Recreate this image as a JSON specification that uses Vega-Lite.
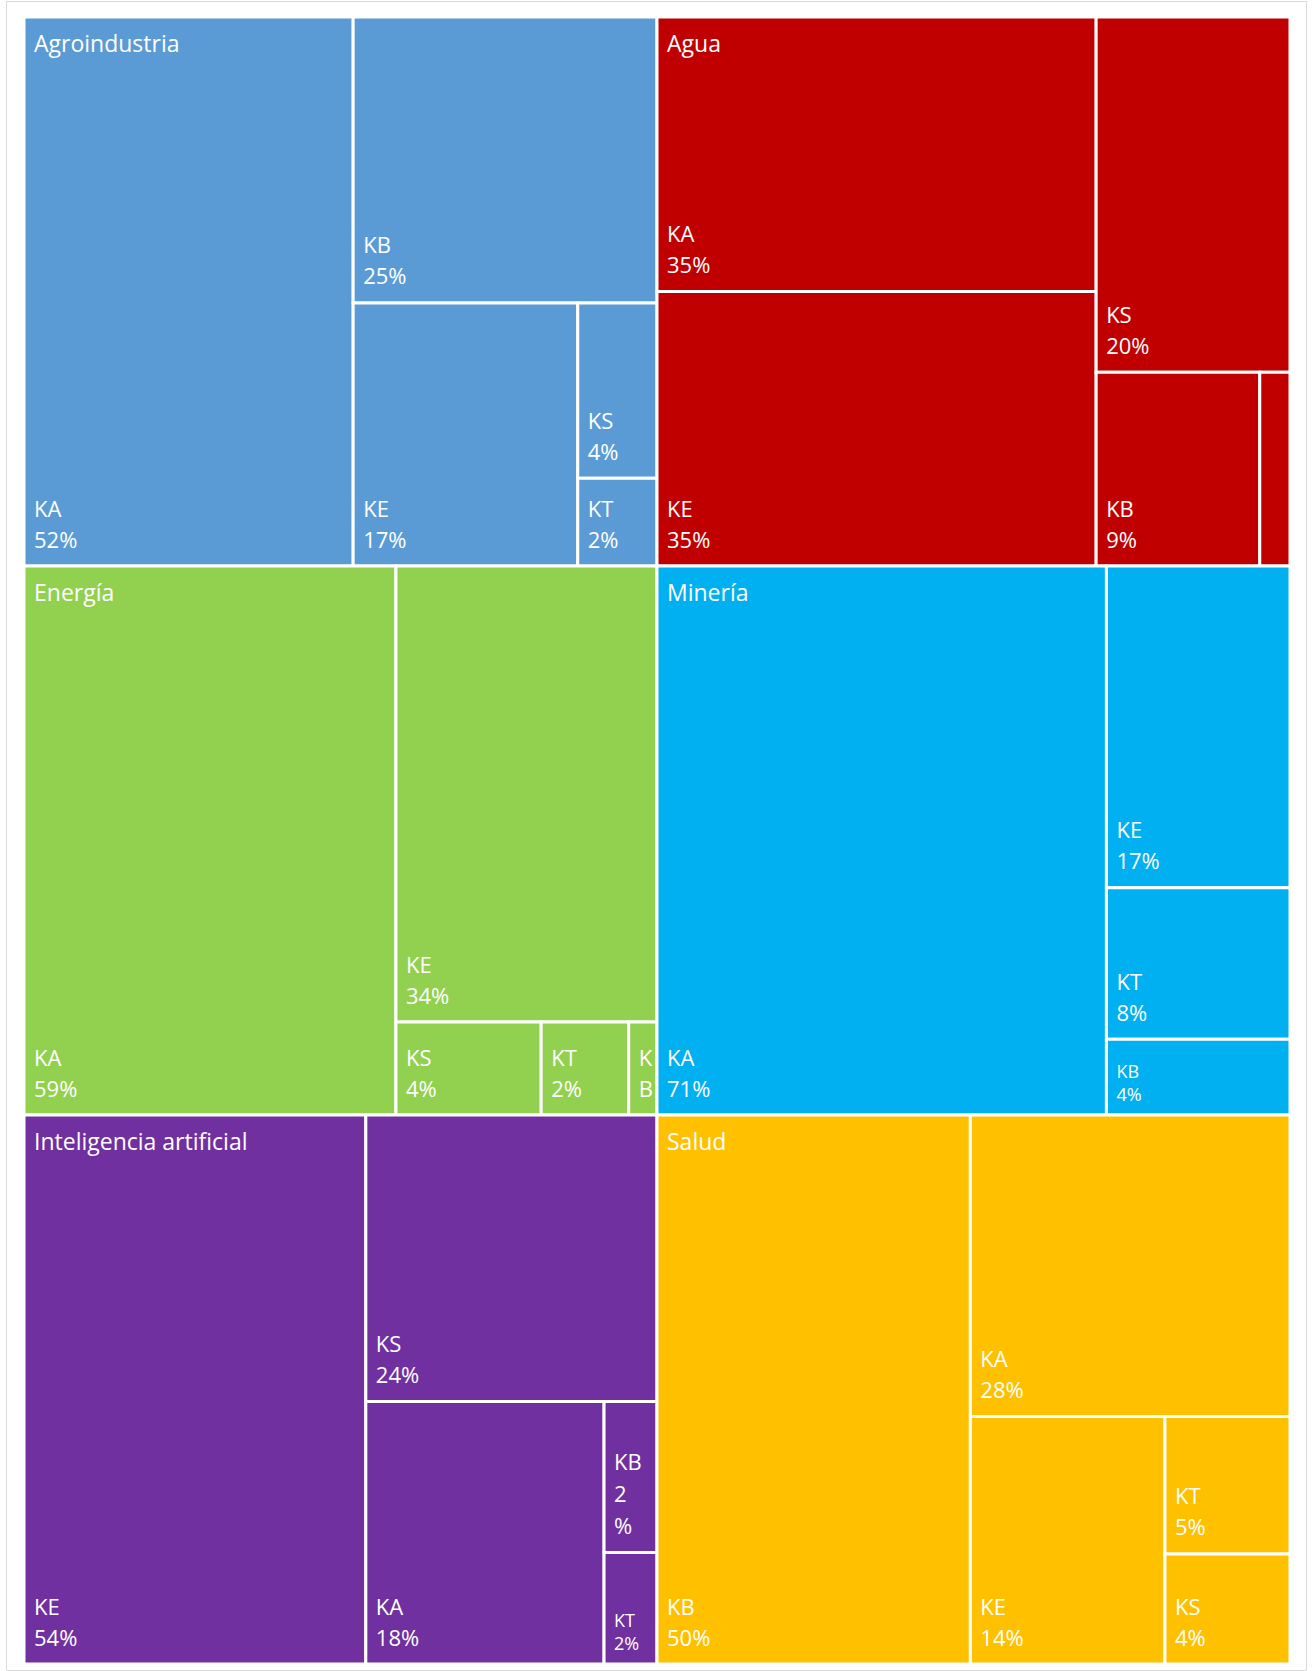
{
  "$schema": "https://vega.github.io/schema/vega-lite/v6.json",
  "width": 1300,
  "height": 1669,
  "padding": {"left": 6, "top": 1, "right": 6, "bottom": 1},
  "autosize": {"type": "none"},
  "background": "white",
  "config": {"view": {"stroke": "#d9d9d9", "strokeWidth": 1}},
  "data": {
    "values": [
      {"g": "Agroindustria", "gs": 1, "gd": "h", "c": "KA", "v": 52, "s": 1, "d": "v"},
      {"g": "Agroindustria", "gs": 1, "gd": "h", "c": "KB", "v": 25, "s": 2, "d": "h"},
      {"g": "Agroindustria", "gs": 1, "gd": "h", "c": "KE", "v": 17, "s": 3, "d": "v"},
      {"g": "Agroindustria", "gs": 1, "gd": "h", "c": "KS", "v": 4, "s": 4, "d": "h"},
      {"g": "Agroindustria", "gs": 1, "gd": "h", "c": "KT", "v": 2, "s": 5, "d": "h"},
      {"g": "Agua", "gs": 1, "gd": "h", "c": "KA", "v": 35, "s": 1, "d": "v"},
      {"g": "Agua", "gs": 1, "gd": "h", "c": "KE", "v": 35, "s": 1, "d": "v"},
      {"g": "Agua", "gs": 1, "gd": "h", "c": "KS", "v": 20, "s": 2, "d": "h"},
      {"g": "Agua", "gs": 1, "gd": "h", "c": "KB", "v": 9.2, "s": 3, "d": "v"},
      {"g": "Agua", "gs": 1, "gd": "h", "c": "KT", "v": 1.7, "s": 4, "d": "v"},
      {"g": "Energía", "gs": 2, "gd": "v", "c": "KA", "v": 59, "s": 1, "d": "v"},
      {"g": "Energía", "gs": 2, "gd": "v", "c": "KE", "v": 34.4, "s": 2, "d": "h"},
      {"g": "Energía", "gs": 2, "gd": "v", "c": "KS", "v": 3.9, "s": 3, "d": "v"},
      {"g": "Energía", "gs": 2, "gd": "v", "c": "KT", "v": 2.35, "s": 4, "d": "v"},
      {"g": "Energía", "gs": 2, "gd": "v", "c": "KB", "v": 0.76, "s": 5, "d": "v"},
      {"g": "Inteligencia artificial", "gs": 2, "gd": "v", "c": "KE", "v": 54, "s": 1, "d": "v"},
      {"g": "Inteligencia artificial", "gs": 2, "gd": "v", "c": "KS", "v": 24, "s": 2, "d": "h"},
      {"g": "Inteligencia artificial", "gs": 2, "gd": "v", "c": "KA", "v": 18, "s": 3, "d": "v"},
      {"g": "Inteligencia artificial", "gs": 2, "gd": "v", "c": "KB", "v": 2.3, "s": 4, "d": "h"},
      {"g": "Inteligencia artificial", "gs": 2, "gd": "v", "c": "KT", "v": 1.7, "s": 5, "d": "h"},
      {"g": "Minería", "gs": 3, "gd": "h", "c": "KA", "v": 71, "s": 1, "d": "v"},
      {"g": "Minería", "gs": 3, "gd": "h", "c": "KE", "v": 17, "s": 2, "d": "h"},
      {"g": "Minería", "gs": 3, "gd": "h", "c": "KT", "v": 8, "s": 3, "d": "h"},
      {"g": "Minería", "gs": 3, "gd": "h", "c": "KB", "v": 4, "s": 4, "d": "h"},
      {"g": "Salud", "gs": 4, "gd": "h", "c": "KB", "v": 50, "s": 1, "d": "v"},
      {"g": "Salud", "gs": 4, "gd": "h", "c": "KA", "v": 28, "s": 2, "d": "h"},
      {"g": "Salud", "gs": 4, "gd": "h", "c": "KE", "v": 14, "s": 3, "d": "v"},
      {"g": "Salud", "gs": 4, "gd": "h", "c": "KT", "v": 5, "s": 4, "d": "h"},
      {"g": "Salud", "gs": 4, "gd": "h", "c": "KS", "v": 4, "s": 5, "d": "h"}
    ]
  },
  "transform": [
    {"joinaggregate": [{"op": "sum", "field": "v", "as": "gt"}], "groupby": ["g"]},
    {"calculate": "datum.v / datum.gt", "as": "w"},
    {"joinaggregate": [{"op": "sum", "field": "w", "as": "gw"}], "groupby": ["g"]},
    {"joinaggregate": [{"op": "sum", "field": "w", "as": "GS"}], "groupby": ["gs"]},
    {"joinaggregate": [{"op": "sum", "field": "w", "as": "T"}]},
    {"window": [{"op": "sum", "field": "w", "as": "gcum"}], "sort": [{"field": "gs", "order": "ascending"}], "frame": [null, 0]},
    {"calculate": "datum.GS / (datum.T - datum.gcum + datum.GS)", "as": "gf"},
    {"calculate": "log(max(1 - datum.gf, 1e-9))", "as": "glf"},
    {"calculate": "datum.gd == 'v' ? datum.glf * datum.w / datum.GS : 0", "as": "glv"},
    {"calculate": "datum.gd == 'h' ? datum.glf * datum.w / datum.GS : 0", "as": "glh"},
    {"window": [{"op": "sum", "field": "glv", "as": "gcv"}, {"op": "sum", "field": "glh", "as": "gch"}], "sort": [{"field": "gs", "order": "ascending"}], "frame": [null, 0]},
    {"calculate": "exp(datum.gcv - (datum.gd == 'v' ? datum.glf : 0))", "as": "GW"},
    {"calculate": "exp(datum.gch - (datum.gd == 'h' ? datum.glf : 0))", "as": "GH"},
    {"window": [{"op": "sum", "field": "w", "as": "gic"}], "groupby": ["gs"], "sort": [{"field": "g", "order": "ascending"}], "frame": [null, 0]},
    {"calculate": "(datum.gic - datum.gw) / datum.GS", "as": "ga0"},
    {"calculate": "datum.gic / datum.GS", "as": "ga1"},
    {"calculate": "datum.gd == 'v' ? 1 - datum.GW : 1 - datum.GW + datum.GW * datum.ga0", "as": "gx0"},
    {"calculate": "datum.gd == 'v' ? 1 - datum.GW + datum.GW * datum.gf : 1 - datum.GW + datum.GW * datum.ga1", "as": "gx1"},
    {"calculate": "datum.gd == 'v' ? 1 - datum.GH + datum.GH * datum.ga0 : 1 - datum.GH", "as": "gy0"},
    {"calculate": "datum.gd == 'v' ? 1 - datum.GH + datum.GH * datum.ga1 : 1 - datum.GH + datum.GH * datum.gf", "as": "gy1"},
    {"joinaggregate": [{"op": "sum", "field": "w", "as": "S"}], "groupby": ["g", "s"]},
    {"window": [{"op": "sum", "field": "w", "as": "cum"}], "groupby": ["g"], "sort": [{"field": "s", "order": "ascending"}], "frame": [null, 0]},
    {"calculate": "datum.S / (datum.gw - datum.cum + datum.S)", "as": "f"},
    {"calculate": "log(max(1 - datum.f, 1e-9))", "as": "lf"},
    {"calculate": "datum.d == 'v' ? datum.lf * datum.w / datum.S : 0", "as": "lv"},
    {"calculate": "datum.d == 'h' ? datum.lf * datum.w / datum.S : 0", "as": "lh"},
    {"window": [{"op": "sum", "field": "lv", "as": "cv"}, {"op": "sum", "field": "lh", "as": "ch"}], "groupby": ["g"], "sort": [{"field": "s", "order": "ascending"}], "frame": [null, 0]},
    {"calculate": "exp(datum.cv - (datum.d == 'v' ? datum.lf : 0))", "as": "LW"},
    {"calculate": "exp(datum.ch - (datum.d == 'h' ? datum.lf : 0))", "as": "LH"},
    {"window": [{"op": "sum", "field": "w", "as": "ic"}], "groupby": ["g", "s"], "sort": [{"field": "v", "order": "descending"}, {"field": "c", "order": "ascending"}], "frame": [null, 0]},
    {"calculate": "(datum.ic - datum.w) / datum.S", "as": "b0"},
    {"calculate": "datum.ic / datum.S", "as": "b1"},
    {"calculate": "datum.d == 'v' ? 1 - datum.LW : 1 - datum.LW + datum.LW * datum.b0", "as": "lx0"},
    {"calculate": "datum.d == 'v' ? 1 - datum.LW + datum.LW * datum.f : 1 - datum.LW + datum.LW * datum.b1", "as": "lx1"},
    {"calculate": "datum.d == 'v' ? 1 - datum.LH + datum.LH * datum.b0 : 1 - datum.LH", "as": "ly0"},
    {"calculate": "datum.d == 'v' ? 1 - datum.LH + datum.LH * datum.b1 : 1 - datum.LH + datum.LH * datum.f", "as": "ly1"},
    {"calculate": "datum.gx0 + (datum.gx1 - datum.gx0) * datum.lx0", "as": "x0"},
    {"calculate": "datum.gx0 + (datum.gx1 - datum.gx0) * datum.lx1", "as": "x1"},
    {"calculate": "datum.gy0 + (datum.gy1 - datum.gy0) * datum.ly0", "as": "y0"},
    {"calculate": "datum.gy0 + (datum.gy1 - datum.gy0) * datum.ly1", "as": "y1"},
    {"calculate": "(datum.x1 - datum.x0) * 1266", "as": "pw"},
    {"calculate": "(datum.y1 - datum.y0) * 1647", "as": "ph"},
    {"calculate": "format(datum.w * 100, '.0f') + '%'", "as": "pct"},
    {"calculate": "datum.pw < 40 ? (datum.ph < 120 ? join(split(datum.c, ''), '\\n') : '') : (datum.pw < 60 && datum.ph > 130 ? datum.c + '\\n' + join(split(datum.pct, ''), '\\n') : datum.c + '\\n' + datum.pct)", "as": "lab"},
    {"calculate": "length(split(datum.lab, '\\n'))", "as": "nl"},
    {"calculate": "datum.pw >= 40 && (datum.ph < 82 || (datum.pw < 60 && datum.ph <= 130))", "as": "small"}
  ],
  "layer": [
    {
      "mark": {"type": "rect", "stroke": "white", "strokeWidth": 3},
      "encoding": {
        "x": {"field": "x0", "type": "quantitative", "scale": {"domain": [-0.014218, 1.012638], "nice": false, "zero": false}, "axis": null},
        "x2": {"field": "x1"},
        "y": {"field": "y0", "type": "quantitative", "scale": {"domain": [-0.009715, 1.003643], "reverse": true, "nice": false, "zero": false}, "axis": null},
        "y2": {"field": "y1"},
        "color": {
          "field": "g",
          "type": "nominal",
          "scale": {
            "domain": ["Agroindustria", "Agua", "Energía", "Inteligencia artificial", "Minería", "Salud"],
            "range": ["#5B9BD5", "#C00000", "#92D050", "#7030A0", "#00B0F0", "#FFC000"]
          },
          "legend": null
        }
      }
    },
    {
      "transform": [{"filter": "datum.s == 1 && datum.b0 < 1e-6"}],
      "mark": {"type": "text", "align": "left", "baseline": "alphabetic", "dx": 10, "dy": 35, "font": "Open Sans", "fontSize": 23, "fill": "white"},
      "encoding": {
        "x": {"field": "gx0", "type": "quantitative", "scale": {"domain": [-0.014218, 1.012638], "nice": false, "zero": false}, "axis": null},
        "y": {"field": "gy0", "type": "quantitative", "scale": {"domain": [-0.009715, 1.003643], "reverse": true, "nice": false, "zero": false}, "axis": null},
        "text": {"field": "g"}
      }
    },
    {
      "transform": [{"filter": "datum.lab != '' && !datum.small && datum.nl == 2"}],
      "mark": {"type": "text", "align": "left", "baseline": "bottom", "dx": 10, "dy": -44.5, "font": "Open Sans", "fontSize": 22, "lineHeight": 31, "lineBreak": "\n", "fill": "white"},
      "encoding": {
        "x": {"field": "x0", "type": "quantitative", "scale": {"domain": [-0.014218, 1.012638], "nice": false, "zero": false}, "axis": null},
        "y": {"field": "y1", "type": "quantitative", "scale": {"domain": [-0.009715, 1.003643], "reverse": true, "nice": false, "zero": false}, "axis": null},
        "text": {"field": "lab"}
      }
    },
    {
      "transform": [{"filter": "datum.lab != '' && !datum.small && datum.nl == 3"}],
      "mark": {"type": "text", "align": "left", "baseline": "bottom", "dx": 10, "dy": -77.5, "font": "Open Sans", "fontSize": 22, "lineHeight": 32, "lineBreak": "\n", "fill": "white"},
      "encoding": {
        "x": {"field": "x0", "type": "quantitative", "scale": {"domain": [-0.014218, 1.012638], "nice": false, "zero": false}, "axis": null},
        "y": {"field": "y1", "type": "quantitative", "scale": {"domain": [-0.009715, 1.003643], "reverse": true, "nice": false, "zero": false}, "axis": null},
        "text": {"field": "lab"}
      }
    },
    {
      "transform": [{"filter": "datum.lab != '' && datum.small"}],
      "mark": {"type": "text", "align": "left", "baseline": "bottom", "dx": 10, "dy": -33, "font": "Open Sans", "fontSize": 18, "lineHeight": 23, "lineBreak": "\n", "fill": "white"},
      "encoding": {
        "x": {"field": "x0", "type": "quantitative", "scale": {"domain": [-0.014218, 1.012638], "nice": false, "zero": false}, "axis": null},
        "y": {"field": "y1", "type": "quantitative", "scale": {"domain": [-0.009715, 1.003643], "reverse": true, "nice": false, "zero": false}, "axis": null},
        "text": {"field": "lab"}
      }
    }
  ]
}
